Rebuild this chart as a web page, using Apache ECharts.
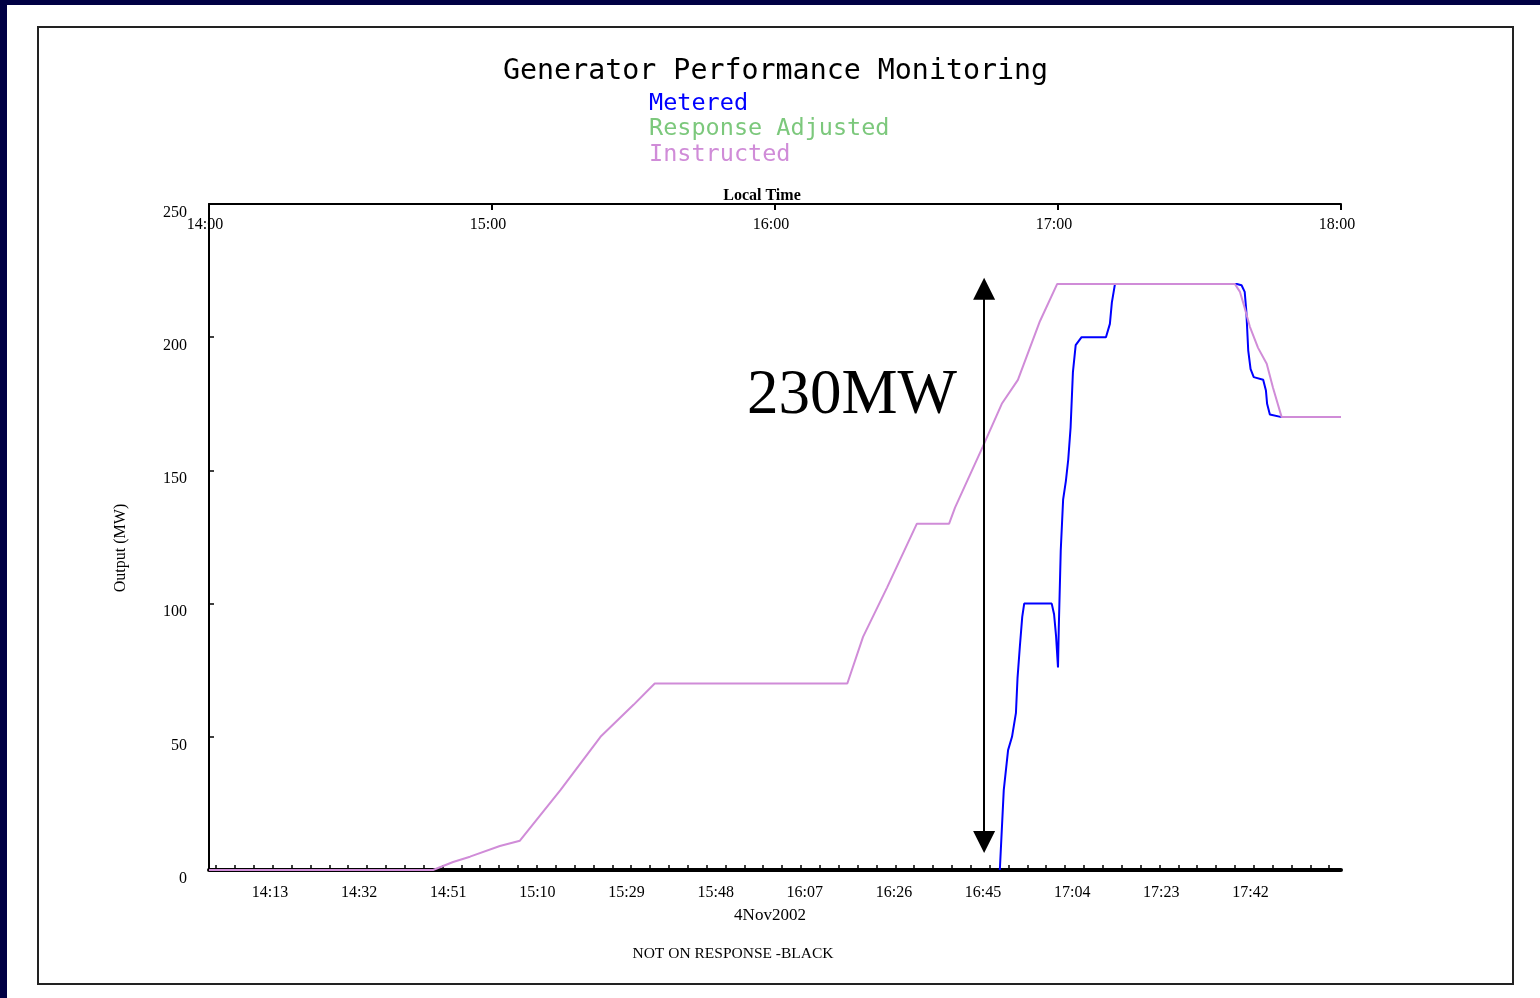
<!DOCTYPE html>
<html>
<head>
<meta charset="utf-8">
<script src="https://cdn.jsdelivr.net/npm/echarts@6/dist/echarts.min.js"></script>
<style>
html,body{margin:0;padding:0;background:#ffffff;}
#chart{width:1540px;height:998px;}
</style>
</head>
<body>
<div id="chart"></div>
<script>
// ---- tick labels ----
const topTickLabels = ['14:00', '15:00', '16:00', '17:00', '18:00'];
const bottomTickLabels = ['14:13', '14:32', '14:51', '15:10', '15:29', '15:48', '16:07', '16:26', '16:45', '17:04', '17:23', '17:42'];
const yTickValues = [0, 50, 100, 150, 200, 250];

// ---- series: Instructed ----
const instructedTime = ['14:00:00', '14:47:30', '14:51:45', '14:55:20', '15:01:40', '15:05:55', '15:14:30', '15:23:00', '15:30:00', '15:34:30',
  '16:15:20', '16:18:40', '16:23:45', '16:30:05', '16:36:55', '16:38:10', '16:44:05', '16:48:05', '16:51:30', '16:56:10', '16:59:50',
  '17:37:30', '17:38:35', '17:39:35', '17:40:40', '17:42:25', '17:44:15', '17:45:35', '17:47:25', '18:00:00'];
const instructedMW = [0, 0, 3, 5, 9, 11, 30, 50, 62, 70,
  70, 87.5, 106, 130, 130, 136, 159, 175, 184, 206, 220,
  220, 217, 211, 204, 196, 190, 181, 170, 170];

// ---- series: Metered ----
const meteredTime = ['16:47:40', '16:48:30', '16:49:25', '16:50:15', '16:51:05', '16:51:25', '16:51:55', '16:52:25', '16:52:50',
  '16:58:40', '16:59:10', '16:59:35', '17:00:00', '17:00:10', '17:00:35', '17:01:05', '17:01:40', '17:02:10', '17:02:40', '17:03:10', '17:03:45',
  '17:05:00', '17:10:10', '17:11:00', '17:11:25', '17:12:05', '17:37:55', '17:38:55', '17:39:35', '17:39:55', '17:40:20', '17:40:50',
  '17:41:30', '17:43:30', '17:44:05', '17:44:20', '17:44:55', '17:47:25', '18:00:00'];
const meteredMW = [0, 30, 45, 50, 59, 72, 84, 95, 100,
  100, 96, 88, 76, 91, 120, 139, 146, 154, 166, 187, 197,
  200, 200, 205, 213, 220, 220, 219.5, 217, 210, 195, 188,
  185, 184, 180, 175, 171, 170, 170];

// ---- series: Response Adjusted (not visible in the picture) ----
const responseAdjustedTime = [];
const responseAdjustedMW = [];

// ---- annotation ----
const arrowTime = '16:44:20';
const arrowFromMW = 10.5;
const arrowToMW = 218.2;
const arrowText = '230MW';

const bottomScaleMax = 241.3;

function toMin(s) {
  const p = s.split(':').map(Number);
  return (p[0] - 14) * 60 + p[1] + (p[2] || 0) / 60;
}
function fmt(m) {
  const h = 14 + Math.floor(m / 60);
  const mm = Math.round(m % 60);
  return h + ':' + (mm < 10 ? '0' : '') + mm;
}
function pairs(times, vals) {
  return times.map((t, i) => [toMin(t), vals[i]]);
}

const bottomMinorTicks = [];
for (let k = 0; k < 60; k++) bottomMinorTicks.push((1.5 + 4 * k) * bottomScaleMax / 240);

const serif = 'Liberation Serif';
const mono = 'DejaVu Sans Mono';

const chart = echarts.init(document.getElementById('chart'), null, {renderer: 'canvas'});
chart.setOption({
  backgroundColor: '#ffffff',
  animation: false,
  title: {
    text: 'Generator Performance Monitoring',
    left: 498,
    top: 53,
    textStyle: {fontFamily: mono, fontSize: 28.3, fontWeight: 'normal', color: '#000'}
  },
  legend: {
    orient: 'vertical',
    left: 638,
    top: 86,
    itemWidth: 0,
    itemHeight: 0,
    itemGap: 0,
    selectedMode: false,
    textStyle: {fontFamily: mono, fontSize: 23.5, lineHeight: 25.5},
    data: [
      {name: 'Metered', textStyle: {color: '#0000ff'}},
      {name: 'Response Adjusted', textStyle: {color: '#7cc87c'}},
      {name: 'Instructed', textStyle: {color: '#d08cd8'}}
    ]
  },
  grid: {left: 209, right: 199, top: 204, bottom: 128, containLabel: false},
  xAxis: [
    {
      type: 'value', position: 'top', min: 0, max: 240,
      name: 'Local Time', nameLocation: 'middle', nameGap: 0, nameMoveOverlap: false,
      nameTextStyle: {fontFamily: serif, fontSize: 16, fontWeight: 'bold', color: '#000',
        padding: [0, 26, 0, 0]},
      axisLine: {show: true, onZero: false, lineStyle: {color: '#000', width: 2}},
      axisTick: {show: true, inside: true, length: 6, lineStyle: {color: '#000', width: 2},
        customValues: topTickLabels.map(toMin)},
      axisLabel: {show: true, inside: true, margin: 13, fontFamily: serif, fontSize: 16, color: '#000',
        padding: [0, 8, 0, 0],
        customValues: topTickLabels.map(toMin), formatter: v => fmt(v)},
      splitLine: {show: false}
    },
    {
      type: 'value', position: 'bottom', min: 0, max: bottomScaleMax,
      name: '4Nov2002', nameLocation: 'middle', nameGap: 37,
      nameTextStyle: {fontFamily: serif, fontSize: 17, color: '#000', padding: [0, 10, 0, 0]},
      axisLine: {show: true, onZero: false, lineStyle: {color: '#000', width: 4}},
      axisTick: {show: true, inside: true, length: 5, lineStyle: {color: '#000', width: 1.5},
        customValues: bottomMinorTicks},
      axisLabel: {show: true, margin: 15, fontFamily: serif, fontSize: 16, color: '#000',
        customValues: bottomTickLabels.map(toMin), formatter: v => fmt(v)},
      splitLine: {show: false}
    }
  ],
  yAxis: {
    type: 'value', min: 0, max: 250, interval: 50,
    name: 'Output (MW)', nameLocation: 'middle', nameGap: 80, nameRotate: 90,
    nameTextStyle: {fontFamily: serif, fontSize: 16, color: '#000', padding: [0, 0, 0, -22]},
    axisLine: {show: true, onZero: false, lineStyle: {color: '#000', width: 2}},
    axisTick: {show: true, inside: true, length: 5, lineStyle: {color: '#000', width: 1.5}},
    axisLabel: {show: true, margin: 22, fontFamily: serif, fontSize: 16, color: '#000',
      verticalAlign: 'top', lineHeight: 17},
    splitLine: {show: false}
  },
  series: [
    {
      name: 'Response Adjusted', type: 'line', xAxisIndex: 0, symbol: 'none',
      color: '#7cc87c', lineStyle: {width: 2, color: '#7cc87c'},
      data: pairs(responseAdjustedTime, responseAdjustedMW), z: 2
    },
    {
      name: 'Metered', type: 'line', xAxisIndex: 0, symbol: 'none',
      color: '#0000ff', lineStyle: {width: 2, color: '#0000ff'},
      data: pairs(meteredTime, meteredMW), z: 3,
      markLine: {
        silent: true,
        symbol: ['triangle', 'triangle'],
        symbolSize: [22, 22],
        lineStyle: {color: '#000', width: 2, type: 'solid'},
        itemStyle: {color: '#000'},
        label: {show: false},
        emphasis: {disabled: true},
        data: [[{coord: [toMin(arrowTime), arrowFromMW]}, {coord: [toMin(arrowTime), arrowToMW]}]]
      }
    },
    {
      name: 'Instructed', type: 'line', xAxisIndex: 0, symbol: 'none',
      color: '#d08cd8', lineStyle: {width: 2, color: '#d08cd8'},
      data: pairs(instructedTime, instructedMW), z: 4
    }
  ],
  graphic: [
    {type: 'rect', shape: {x: 0, y: 0, width: 1540, height: 5}, style: {fill: '#000044'}, silent: true},
    {type: 'rect', shape: {x: 0, y: 0, width: 7, height: 998}, style: {fill: '#000044'}, silent: true},
    {type: 'rect', shape: {x: 38, y: 27, width: 1475, height: 957}, style: {fill: 'none', stroke: '#222', lineWidth: 2}, silent: true, z: -1},
    {type: 'text', left: 747, top: 365, style: {text: arrowText, font: '63px "Liberation Serif"', fill: '#000'}, silent: true},
    {type: 'text', style: {text: 'NOT ON RESPONSE -BLACK', x: 733, y: 954, textAlign: 'center', textVerticalAlign: 'middle',
      font: '15.5px "Liberation Serif"', fill: '#000'}, silent: true}
  ]
});
</script>
</body>
</html>
